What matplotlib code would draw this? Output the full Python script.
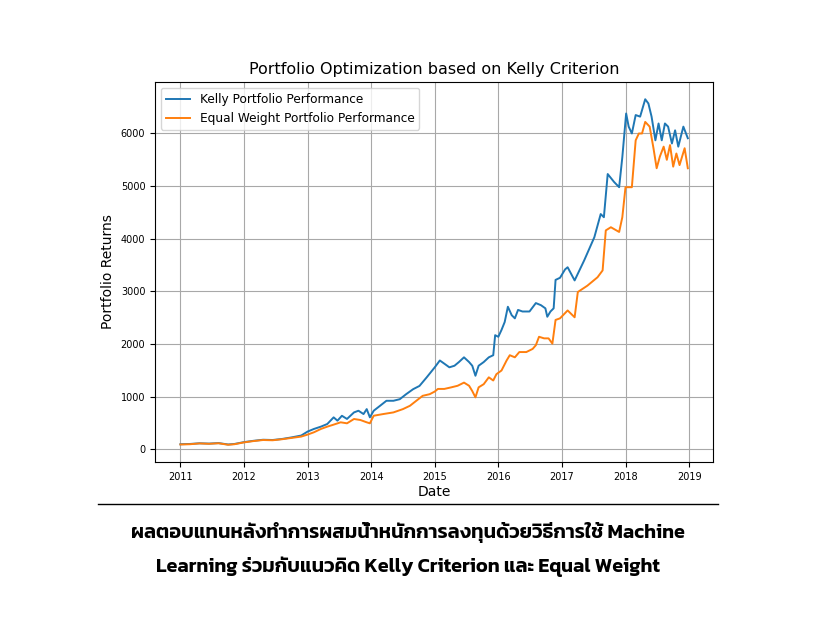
import numpy as np
import pandas as pd
import matplotlib
matplotlib.use('Agg')
import matplotlib.pyplot as plt
import matplotlib.dates as mdates

# decimal years + values
kelly_t = [2011.00, 2011.15, 2011.30, 2011.45, 2011.60, 2011.75, 2011.85, 2012.00, 2012.15, 2012.30,
           2012.45, 2012.60, 2012.75, 2012.90, 2013.00, 2013.10, 2013.21, 2013.31, 2013.41, 2013.47,
           2013.54, 2013.62, 2013.73, 2013.80, 2013.88, 2013.93, 2013.98, 2014.04, 2014.14, 2014.24,
           2014.35, 2014.45, 2014.55, 2014.66, 2014.76, 2014.87, 2015.00, 2015.08, 2015.15, 2015.23,
           2015.31, 2015.38, 2015.46, 2015.54, 2015.59, 2015.64, 2015.69, 2015.77, 2015.85, 2015.92,
           2015.95, 2016.00, 2016.05, 2016.10, 2016.15, 2016.21, 2016.26, 2016.31, 2016.38, 2016.49,
           2016.59, 2016.67, 2016.74, 2016.77, 2016.82, 2016.87, 2016.90, 2016.97, 2017.05, 2017.09,
           2017.20, 2017.35, 2017.51, 2017.61, 2017.66, 2017.72, 2017.82, 2017.90, 2017.95, 2018.01,
           2018.05, 2018.10, 2018.16, 2018.23, 2018.31, 2018.36, 2018.41, 2018.47, 2018.52, 2018.57,
           2018.62, 2018.67, 2018.73, 2018.78, 2018.83, 2018.91, 2018.98]
kelly_v = [100, 105, 118, 112, 122, 95, 105, 140, 165, 185,
           180, 200, 230, 265, 340, 390, 434, 484, 610, 547,
           640, 580, 704, 736, 673, 767, 610, 736, 830, 925,
           925, 955, 1050, 1145, 1207, 1365, 1560, 1690, 1630, 1560,
           1590, 1660, 1750, 1660, 1590, 1400, 1590, 1660, 1750, 1790,
           2170, 2140, 2270, 2420, 2710, 2550, 2490, 2650, 2620, 2620,
           2780, 2740, 2680, 2520, 2620, 2680, 3220, 3260, 3420, 3460,
           3210, 3590, 4030, 4470, 4410, 5230, 5080, 4980, 5550, 6380,
           6130, 6000, 6350, 6320, 6650, 6570, 6320, 5870, 6190, 5870,
           6190, 6130, 5810, 6060, 5750, 6130, 5910]

equal_t = [2011.00, 2011.15, 2011.30, 2011.45, 2011.60, 2011.75, 2011.85, 2012.00, 2012.15, 2012.30,
           2012.45, 2012.60, 2012.75, 2012.90, 2013.00, 2013.10, 2013.21, 2013.31, 2013.41, 2013.52,
           2013.62, 2013.73, 2013.83, 2013.93, 2013.98, 2014.04, 2014.19, 2014.35, 2014.50, 2014.61,
           2014.71, 2014.81, 2014.92, 2015.00, 2015.05, 2015.15, 2015.26, 2015.36, 2015.46, 2015.54,
           2015.59, 2015.64, 2015.69, 2015.77, 2015.85, 2015.92, 2015.97, 2016.05, 2016.13, 2016.18,
           2016.26, 2016.33, 2016.44, 2016.54, 2016.59, 2016.64, 2016.72, 2016.79, 2016.85, 2016.90,
           2016.97, 2017.09, 2017.20, 2017.25, 2017.40, 2017.56, 2017.64, 2017.69, 2017.77, 2017.90,
           2017.95, 2018.00, 2018.10, 2018.16, 2018.21, 2018.26, 2018.31, 2018.38, 2018.44, 2018.49,
           2018.54, 2018.60, 2018.65, 2018.70, 2018.75, 2018.80, 2018.85, 2018.93, 2018.98]
equal_v = [95, 100, 115, 108, 118, 90, 100, 135, 160, 180,
           175, 195, 220, 245, 283, 327, 390, 434, 472, 516,
           497, 579, 560, 516, 497, 641, 673, 704, 767, 830,
           925, 1019, 1050, 1100, 1150, 1150, 1180, 1210, 1270, 1210,
           1110, 990, 1180, 1240, 1370, 1310, 1430, 1500, 1690, 1790,
           1750, 1850, 1850, 1910, 1980, 2140, 2110, 2110, 2010, 2460,
           2490, 2640, 2510, 2990, 3110, 3270, 3400, 4160, 4220, 4130,
           4410, 4980, 4980, 5870, 6000, 6000, 6220, 6130, 5720, 5340,
           5560, 5750, 5500, 5780, 5370, 5620, 5400, 5720, 5340]

title = 'Portfolio Optimization based on Kelly Criterion'
caption = ['ผลตอบแทนหลังทำการผสมน้ำหนักการลงทุนด้วยวิธีการใช้ Machine',
           'Learning ร่วมกับแนวคิด Kelly Criterion และ Equal Weight']


def to_dates(t):
    t = np.asarray(t)
    return pd.Timestamp('2011-01-01') + pd.to_timedelta((t - 2011) * 365.25, unit='D')


fig = plt.figure(figsize=(8.16, 6.21), dpi=100)
ax = fig.add_axes([0.19, 0.256, 0.684, 0.612])
ax.plot(to_dates(kelly_t), kelly_v, color='#1f77b4', lw=1.4, label='Kelly Portfolio Performance')
ax.plot(to_dates(equal_t), equal_v, color='#ff7f0e', lw=1.4, label='Equal Weight Portfolio Performance')
ax.xaxis.set_major_locator(mdates.YearLocator())
ax.xaxis.set_major_formatter(mdates.DateFormatter('%Y'))
ax.tick_params(labelsize=7)
ax.grid(True, color='#a8a8a8', lw=0.8)
ax.set_title(title, fontsize=11.5)
ax.set_xlabel('Date', fontsize=10, labelpad=2)
ax.set_ylabel('Portfolio Returns', fontsize=10)
ax.legend(loc='upper left', fontsize=8.7)

# caption under the chart
fig.add_artist(plt.Line2D([0.12, 0.88], [0.188, 0.188], color='black', lw=1))
thai = ['Kanit', 'DejaVu Sans']
fig.text(0.5, 0.142, caption[0], ha='center', va='center', fontsize=14.4, fontweight='semibold', family=thai)
fig.text(0.5, 0.087, caption[1], ha='center', va='center', fontsize=14.4, fontweight='semibold', family=thai)

fig.savefig('out.png', dpi=100)
